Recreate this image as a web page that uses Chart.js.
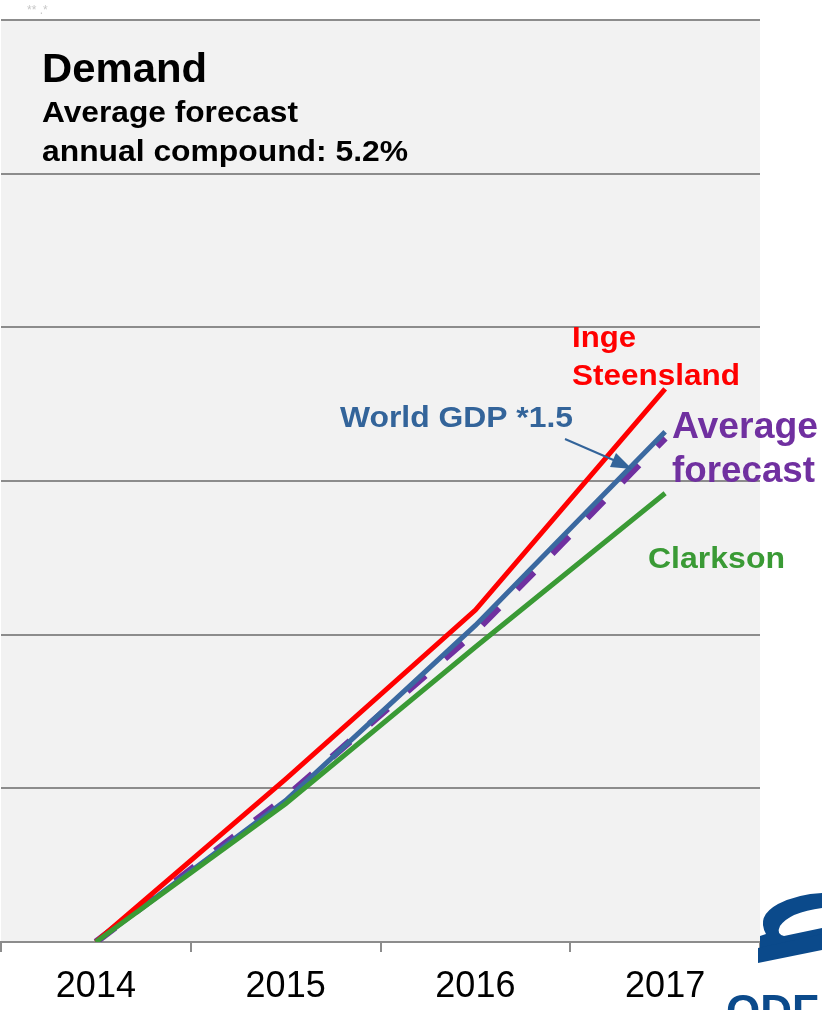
<!DOCTYPE html>
<html>
<head>
<meta charset="utf-8">
<script src="https://cdn.jsdelivr.net/npm/chart.js@4/dist/chart.umd.min.js"></script>
<style>
    html, body { margin: 0; padding: 0; background: #ffffff; }
    #wrap { width: 822px; height: 1010px; position: relative; }
</style>
</head>
<body>
<div id="wrap"><canvas id="demandChart" width="822" height="1010"></canvas></div>
<script>
// Chart data (index, 2014 = 100)
const years = ['2014', '2015', '2016', '2017'];
const ingeSteensland = [100, 105.3, 110.8, 118.0];
const worldGdp = [100, 104.6, 110.3, 116.6];
const averageForecast = [100, 104.7, 110.1, 116.4];
const clarkson = [100, 104.5, 109.6, 114.6];
const yTicks = [100, 105, 110, 115, 120, 125, 130];

Chart.defaults.font.family = "'Liberation Sans', Arial, sans-serif";

// Grey plot background
const plotBackground = {
    id: 'plotBackground',
    beforeDraw(chart) {
        const { ctx, chartArea } = chart;
        ctx.save();
        ctx.fillStyle = '#f2f2f2';
        ctx.fillRect(chartArea.left, chartArea.top, chartArea.right - chartArea.left, chartArea.bottom - chartArea.top);
        ctx.restore();
    }
};

// Bold text squeezed/stretched to a given width
function drawLabel(ctx, text, x, y, size, color, width) {
    ctx.save();
    ctx.font = 'bold ' + size + "px 'Liberation Sans', Arial, sans-serif";
    ctx.fillStyle = color;
    ctx.textBaseline = 'alphabetic';
    const w = ctx.measureText(text).width;
    ctx.translate(x, y);
    ctx.scale(width / w, 1);
    ctx.fillText(text, 0, 0);
    ctx.restore();
}

// Title, series labels, arrow and logo
const annotations = {
    id: 'annotations',
    afterDraw(chart) {
        const ctx = chart.ctx;

        drawLabel(ctx, 'Demand', 42, 82, 40, '#000000', 165);
        drawLabel(ctx, 'Average forecast', 42, 122, 29, '#000000', 256);
        drawLabel(ctx, 'annual compound: 5.2%', 42, 161, 29, '#000000', 366);

        drawLabel(ctx, 'Inge', 572, 347, 29, '#ff0000', 64);
        drawLabel(ctx, 'Steensland', 572, 385, 29, '#ff0000', 168);
        drawLabel(ctx, 'World GDP *1.5', 340, 427, 30, '#33649a', 233);
        drawLabel(ctx, 'Average', 672, 438, 37, '#7030a0', 146);
        drawLabel(ctx, 'forecast', 672, 482, 37, '#7030a0', 143);
        drawLabel(ctx, 'Clarkson', 648, 568, 29, '#3a9a35', 137);

        // arrow pointing at the World GDP line
        ctx.save();
        ctx.strokeStyle = '#33649a';
        ctx.fillStyle = '#33649a';
        ctx.lineWidth = 2;
        ctx.beginPath();
        ctx.moveTo(565, 439);
        ctx.lineTo(618, 462);
        ctx.stroke();
        ctx.beginPath();
        ctx.moveTo(632, 469);
        ctx.lineTo(616, 453);
        ctx.lineTo(610, 467);
        ctx.closePath();
        ctx.fill();
        ctx.restore();

        // faint marks at top left
        ctx.save();
        ctx.fillStyle = '#c8c8c8';
        ctx.font = "12px 'Liberation Sans', Arial, sans-serif";
        ctx.fillText('** .*', 27, 14);
        ctx.restore();

        // partial company logo, bottom right
        ctx.save();
        ctx.fillStyle = '#0b4a8b';
        ctx.beginPath();
        ctx.moveTo(822, 893);
        ctx.lineTo(822, 908);
        ctx.quadraticCurveTo(790, 912, 780, 926);
        ctx.quadraticCurveTo(776, 934, 784, 936);
        ctx.lineTo(822, 928);
        ctx.lineTo(822, 940);
        ctx.lineTo(760, 954);
        ctx.lineTo(760, 936);
        ctx.lineTo(766, 934);
        ctx.quadraticCurveTo(756, 916, 778, 904);
        ctx.quadraticCurveTo(798, 894, 822, 893);
        ctx.closePath();
        ctx.fill();
        ctx.beginPath();
        ctx.moveTo(758, 948);
        ctx.lineTo(822, 934);
        ctx.lineTo(822, 950);
        ctx.lineTo(758, 963);
        ctx.closePath();
        ctx.fill();
        ctx.font = "bold 44px 'Liberation Sans', Arial, sans-serif";
        ctx.fillText('ODFJELL', 726, 1026);
        ctx.restore();
    }
};

const ctx = document.getElementById('demandChart').getContext('2d');
const demandChart = new Chart(ctx, {
    type: 'line',
    data: {
        labels: years,
        datasets: [
            {
                label: 'Inge Steensland',
                data: ingeSteensland,
                borderColor: '#ff0000',
                borderWidth: 5,
                order: 1
            },
            {
                label: 'World GDP *1.5',
                data: worldGdp,
                borderColor: '#3b69a0',
                borderWidth: 5,
                order: 2
            },
            {
                label: 'Average forecast',
                data: averageForecast,
                borderColor: '#7030a0',
                borderWidth: 7,
                borderDash: [24, 26],
                order: 3
            },
            {
                label: 'Clarkson',
                data: clarkson,
                borderColor: '#3a9a35',
                borderWidth: 5,
                order: 0
            }
        ]
    },
    options: {
        responsive: false,
        animation: false,
        events: [],
        layout: {
            padding: { top: 20, right: 62, left: 0, bottom: 0 }
        },
        elements: {
            point: { radius: 0 },
            line: { tension: 0, fill: false }
        },
        plugins: {
            legend: { display: false },
            tooltip: { enabled: false }
        },
        scales: {
            x: {
                offset: true,
                afterFit: function (scale) {
                    scale.height = 68;
                },
                grid: {
                    offset: true,
                    drawOnChartArea: false,
                    drawTicks: true,
                    tickLength: 10,
                    color: '#8c8c8c',
                    lineWidth: 2
                },
                border: {
                    color: '#8c8c8c',
                    width: 2
                },
                ticks: {
                    color: '#000000',
                    font: { size: 36 },
                    padding: 13,
                    maxRotation: 0
                }
            },
            y: {
                min: yTicks[0],
                max: yTicks[yTicks.length - 1],
                afterFit: function (scale) {
                    scale.width = 1;
                },
                afterBuildTicks: function (scale) {
                    scale.ticks = yTicks.map(v => ({ value: v }));
                },
                grid: {
                    drawTicks: false,
                    color: '#8c8c8c',
                    lineWidth: 2
                },
                border: { display: false },
                ticks: { display: false }
            }
        }
    },
    plugins: [plotBackground, annotations]
});
</script>
</body>
</html>
